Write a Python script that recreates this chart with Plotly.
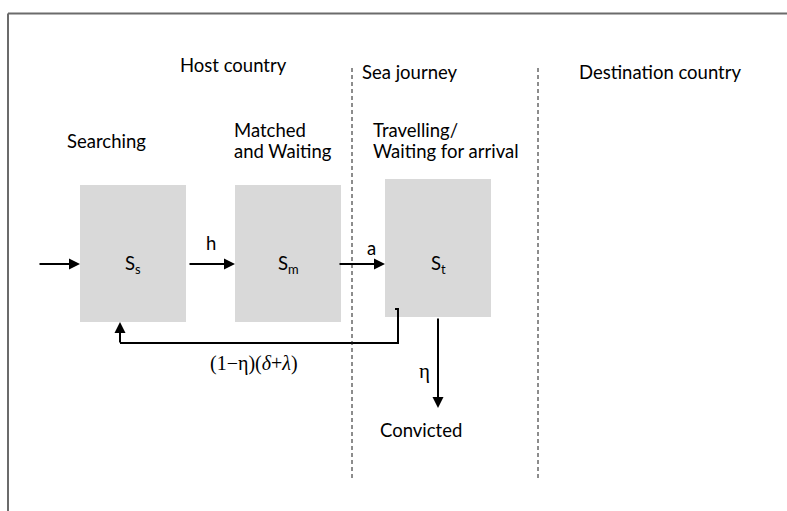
import plotly.graph_objects as go

# ---- content ----
region_labels = ["Host country", "Sea journey", "Destination country"]
stage_lines = [["Searching"], ["Matched", "and Waiting"], ["Travelling/", "Waiting for arrival"]]
state_labels = ["S<sub>s</sub>", "S<sub>m</sub>", "S<sub>t</sub>"]
rate_labels = ["h", "a"]
return_label = "(1\u2212\u03b7)(<i>\u03b4</i>+<i>\u03bb</i>)"
exit_rate_label = "\u03b7"
exit_label = "Convicted"

# ---- layout geometry (pixel-like coordinates) ----
W, H = 787, 511
box_x0 = [80, 235, 385]
box_x1 = [186, 341, 491]
box_y0 = [185, 185, 179]
box_y1 = [322, 322, 317]
region_x = [233, 410, 660]
region_y = [65, 72, 72]
stage_x = [106, 232, 371]
stage_anchor = ["center", "left", "left"]
stage_y = [[141], [130, 151], [130, 151]]
divider_x = [352, 538]
flow_y = 264

FONT = "Lato"
FS = 18.5
GREY = "#d9d9d9"
INK = "#000000"

fig = go.Figure()
shapes = []
ann = []

# frame (top and left)
shapes.append(dict(type="line", x0=8, y0=13.5, x1=W, y1=13.5, line=dict(color="#6b6b6b", width=2)))
shapes.append(dict(type="line", x0=8, y0=13.5, x1=8, y1=H, line=dict(color="#6b6b6b", width=2)))

# dividers
for dx in divider_x:
    shapes.append(dict(type="line", x0=dx, y0=68, x1=dx, y1=479,
                       line=dict(color="#1a1a1a", width=1, dash="4px,3px")))

# boxes
for i in range(3):
    shapes.append(dict(type="rect", x0=box_x0[i], x1=box_x1[i], y0=box_y0[i], y1=box_y1[i],
                       fillcolor=GREY, line=dict(width=0), layer="below"))
    ann.append(dict(x=(box_x0[i] + box_x1[i]) / 2, y=flow_y, text=state_labels[i],
                    showarrow=False, font=dict(family=FONT, size=FS, color=INK)))

# region and stage labels
for i in range(3):
    ann.append(dict(x=region_x[i], y=region_y[i], text=region_labels[i], showarrow=False,
                    font=dict(family=FONT, size=FS, color=INK)))
    for line, yy in zip(stage_lines[i], stage_y[i]):
        ann.append(dict(x=stage_x[i], y=yy, text=line, showarrow=False,
                        xanchor=stage_anchor[i], font=dict(family=FONT, size=FS, color=INK)))


def arrow(x0, y0, x1, y1):
    ann.append(dict(x=x1, y=y1, ax=x0, ay=y0, xref="x", yref="y", axref="x", ayref="y",
                    text="", showarrow=True, arrowhead=2, arrowsize=1.1, arrowwidth=2,
                    arrowcolor=INK, standoff=0))


# flows
arrow(38, flow_y, box_x0[0], flow_y)
arrow(box_x1[0] + 2, flow_y, box_x0[1], flow_y)
arrow(box_x1[1] - 3, flow_y, box_x0[2], flow_y)
ann.append(dict(x=211, y=243, text=rate_labels[0], showarrow=False,
                font=dict(family=FONT, size=FS, color=INK)))
ann.append(dict(x=371, y=248, text=rate_labels[1], showarrow=False,
                font=dict(family=FONT, size=FS, color=INK)))

# return flow
fig.add_trace(go.Scatter(x=[395, 398, 398, 120], y=[309, 309, 343, 343], mode="lines",
                         line=dict(color=INK, width=2), hoverinfo="skip", showlegend=False))
arrow(120, 344, 120, box_y1[0])
ann.append(dict(x=254, y=363, text=return_label, showarrow=False,
                font=dict(family="Liberation Serif", size=20, color=INK)))

# exit flow
arrow(438, box_y1[2], 438, 408)
ann.append(dict(x=424, y=371, text=exit_rate_label, showarrow=False,
                font=dict(family="Liberation Serif", size=21, color=INK)))
ann.append(dict(x=421, y=430, text=exit_label, showarrow=False,
                font=dict(family=FONT, size=FS, color=INK)))

fig.update_layout(
    width=W, height=H, margin=dict(l=0, r=0, t=0, b=0),
    paper_bgcolor="white", plot_bgcolor="white",
    xaxis=dict(range=[0, W], visible=False, fixedrange=True),
    yaxis=dict(range=[H, 0], visible=False, fixedrange=True),
    shapes=shapes, annotations=ann, showlegend=False,
)

fig.write_html("out.html", config={"displayModeBar": False},
               post_script="document.body.style.margin='0px';document.body.style.overflow='hidden';")
